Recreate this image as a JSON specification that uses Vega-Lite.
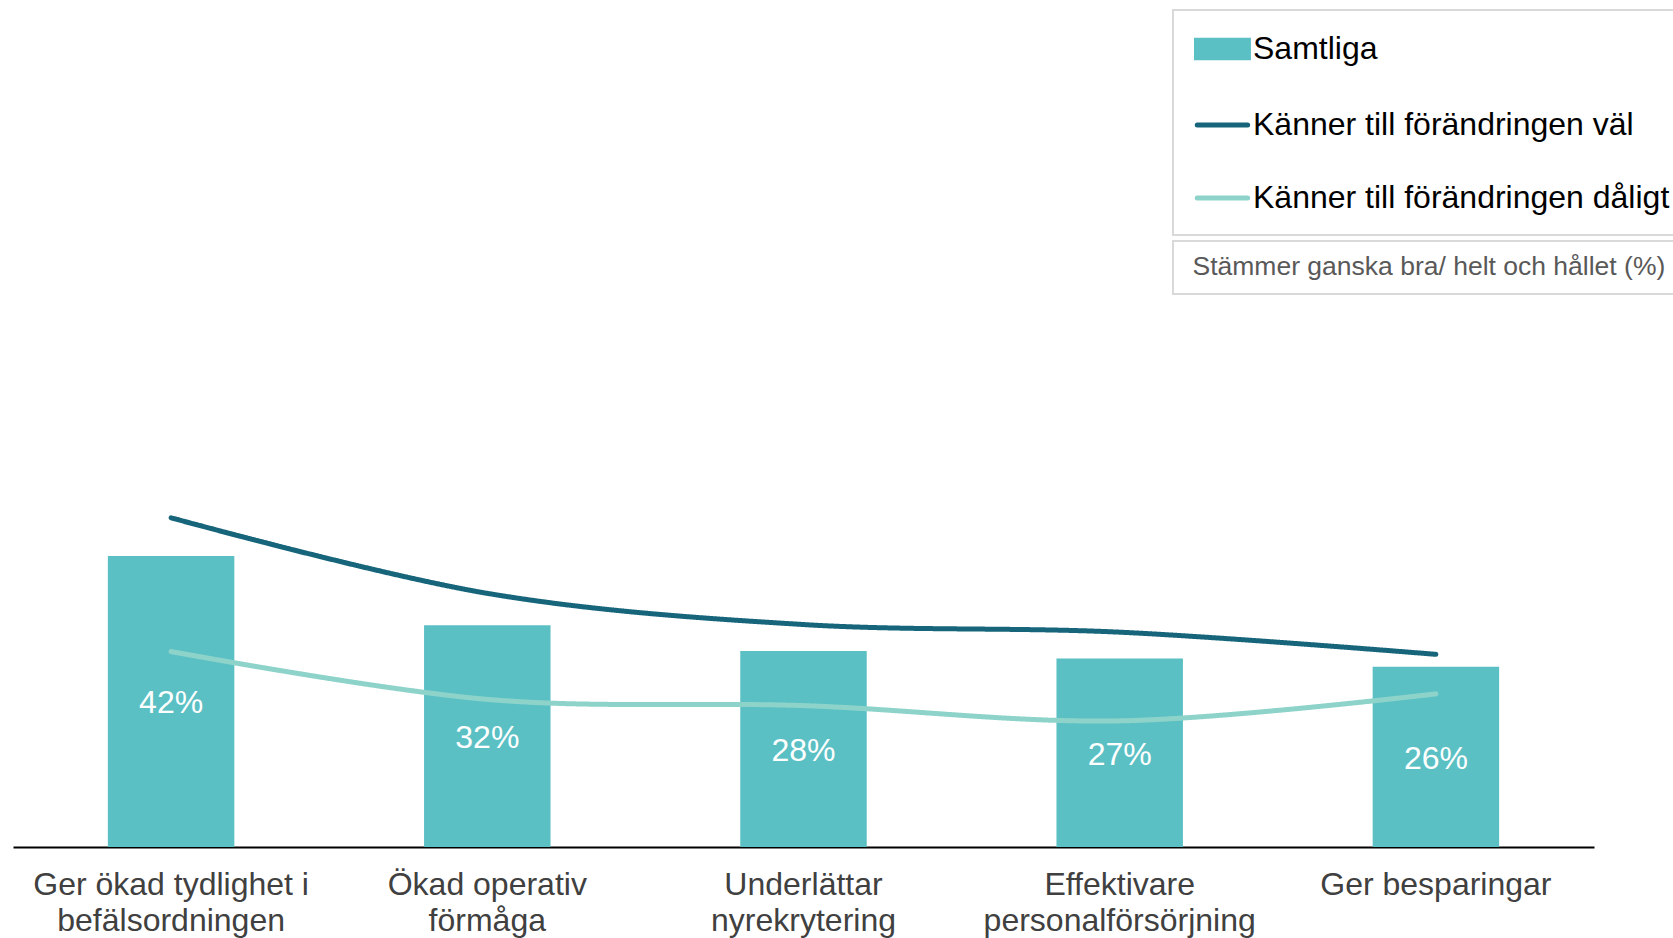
{
  "$schema": "https://vega.github.io/schema/vega-lite/v6.json",
  "width": 1581,
  "height": 693,
  "autosize": {"type": "none"},
  "padding": {"left": 13, "top": 154, "right": 79, "bottom": 91},
  "background": "white",
  "config": {"view": {"stroke": null}, "font": "Liberation Sans"},
  "data": {
    "values": [
      {"category": "Ger ökad tydlighet i befälsordningen", "series": "Samtliga", "value": 42.0, "label": "42%"},
      {"category": "Ökad operativ förmåga", "series": "Samtliga", "value": 32.0, "label": "32%"},
      {"category": "Underlättar nyrekrytering", "series": "Samtliga", "value": 28.3, "label": "28%"},
      {"category": "Effektivare personalförsörjning", "series": "Samtliga", "value": 27.2, "label": "27%"},
      {"category": "Ger besparingar", "series": "Samtliga", "value": 26.0, "label": "26%"},
      {"category": "Ger ökad tydlighet i befälsordningen", "series": "Känner till förändringen väl", "value": 47.5},
      {"category": "Ökad operativ förmåga", "series": "Känner till förändringen väl", "value": 36.6},
      {"category": "Underlättar nyrekrytering", "series": "Känner till förändringen väl", "value": 32.1},
      {"category": "Effektivare personalförsörjning", "series": "Känner till förändringen väl", "value": 31.0},
      {"category": "Ger besparingar", "series": "Känner till förändringen väl", "value": 27.8},
      {"category": "Ger ökad tydlighet i befälsordningen", "series": "Känner till förändringen dåligt", "value": 28.2},
      {"category": "Ökad operativ förmåga", "series": "Känner till förändringen dåligt", "value": 21.3},
      {"category": "Underlättar nyrekrytering", "series": "Känner till förändringen dåligt", "value": 20.4},
      {"category": "Effektivare personalförsörjning", "series": "Känner till förändringen dåligt", "value": 18.2},
      {"category": "Ger besparingar", "series": "Känner till förändringen dåligt", "value": 22.1}
    ]
  },
  "layer": [
    {
      "transform": [{"filter": "datum.series === 'Samtliga'"}],
      "mark": {"type": "bar"},
      "encoding": {
        "x": {
          "field": "category", "type": "nominal", "sort": null,
          "scale": {"paddingInner": 0.6, "paddingOuter": 0.3},
          "axis": {
            "title": null, "domainColor": "#000000", "domainWidth": 2, "ticks": false,
            "labelFontSize": 32, "labelColor": "#404040", "labelPadding": 22, "labelLineHeight": 36,
            "labelAngle": 0, "labelLimit": 600, "labelOverlap": false, "grid": false,
            "labelExpr": "length(datum.value) > 16 ? [substring(datum.value, 0, lastindexof(datum.value, ' ')), substring(datum.value, lastindexof(datum.value, ' ') + 1)] : datum.value"
          }
        },
        "y": {"field": "value", "type": "quantitative", "scale": {"domain": [0, 100]}, "axis": null},
        "color": {
          "field": "series", "type": "nominal",
          "scale": {
            "domain": ["Samtliga", "Känner till förändringen väl", "Känner till förändringen dåligt"],
            "range": ["#5BC0C4", "#17657B", "#8DD3CA"]
          },
          "legend": {
            "orient": "none", "legendX": 1160, "legendY": -144, "direction": "vertical",
            "title": null, "strokeColor": "#D9D9D9", "padding": 21, "rowPadding": 39,
            "labelFontSize": 32, "labelColor": "#000000", "labelLimit": 1000, "labelOffset": 23,
            "symbolSize": 961,
            "encode": {
              "legend": {"update": {"strokeWidth": {"value": 2}}},
              "symbols": {
                "update": {
                  "shape": {"signal": "datum.value === 'Samtliga' ? 'M-1,-0.56H2.35V0.56H-1Z' : 'M-0.95,0H2.3'"},
                  "fill": {"signal": "datum.value === 'Samtliga' ? '#5BC0C4' : 'transparent'"},
                  "stroke": {"signal": "datum.value === 'Samtliga' ? 'transparent' : (datum.value === 'Känner till förändringen väl' ? '#17657B' : '#8DD3CA')"},
                  "strokeWidth": {"value": 5},
                  "strokeCap": {"value": "round"},
                  "opacity": {"value": 1},
                  "fillOpacity": {"value": 1},
                  "strokeOpacity": {"value": 1}
                }
              }
            }
          }
        }
      }
    },
    {
      "transform": [{"filter": "datum.series !== 'Samtliga'"}],
      "mark": {"type": "line", "interpolate": "catmull-rom", "strokeWidth": 5, "strokeCap": "round"},
      "encoding": {
        "x": {"field": "category", "type": "nominal", "sort": null},
        "y": {"field": "value", "type": "quantitative", "scale": {"domain": [0, 100]}, "axis": null},
        "color": {"field": "series", "type": "nominal"},
        "strokeDash": {
          "datum": "Stämmer ganska bra/ helt och hållet (%)", "type": "nominal",
          "scale": {"range": [[1, 0]]},
          "legend": {
            "orient": "none", "legendX": 1160, "legendY": 87, "title": null,
            "strokeColor": "#D9D9D9", "padding": 13, "labelFontSize": 26.5, "labelColor": "#595959",
            "labelLimit": 1000, "labelOffset": -20, "symbolSize": 0, "symbolStrokeWidth": 0, "symbolOpacity": 0,
            "encode": {"legend": {"update": {"strokeWidth": {"value": 2}}}}
          }
        }
      }
    },
    {
      "transform": [{"filter": "datum.series === 'Samtliga'"}],
      "mark": {"type": "text", "color": "#FFFFFF", "fontSize": 32, "baseline": "middle", "align": "center", "dy": 2},
      "encoding": {
        "x": {"field": "category", "type": "nominal", "sort": null},
        "y": {"field": "value", "type": "quantitative", "scale": {"domain": [0, 200]}, "axis": null},
        "text": {"field": "label"}
      }
    }
  ],
  "resolve": {"scale": {"y": "independent"}}
}
